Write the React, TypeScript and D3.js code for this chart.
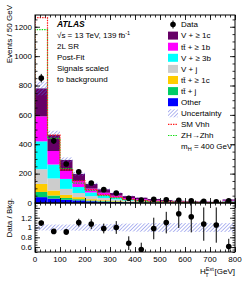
import { useEffect, useRef } from 'react';
import * as d3 from 'd3';

// H_T^Ext bins (50 GeV wide), lower edges
const binLow = [0, 50, 100, 150, 200, 250, 300, 350, 400, 450, 500, 550, 600, 650, 700, 750];

// backgrounds, stacked bottom to top
const other = [40, 30, 22, 18, 12, 9, 7, 4, 3, 2.5, 1.8, 1.2, 1, 0.8, 0.7, 2];
const ttj = [35, 21, 12, 8, 5, 4, 3, 2, 2, 1, 0.7, 0.5, 0.4, 0.4, 0.3, 0.8];
const ttc = [55, 34, 21, 14, 9, 6, 4, 3, 2, 1.5, 1, 0.8, 0.6, 0.5, 0.4, 1.2];
const vj = [100, 82, 41, 28, 20, 15, 11, 8, 6, 5, 3.5, 2.8, 2.2, 1.8, 1.4, 4.5];
const v3b = [190, 95, 68, 41, 26, 18, 12, 8, 6, 4, 3, 2.2, 1.8, 1.5, 1.2, 3.5];
const ttb = [170, 92, 54, 41, 26, 18, 13, 9, 7, 5, 4, 3, 2.4, 2, 1.6, 5];
const v1c = [190, 110, 75, 48, 32, 23, 18, 13, 10, 8, 6, 4.5, 3.6, 3, 2.4, 7];

// relative bkg uncertainty
const bkgUnc = [0.06, 0.06, 0.06, 0.065, 0.07, 0.07, 0.075, 0.08, 0.085, 0.09, 0.09, 0.09, 0.09, 0.09, 0.09, 0.09];

// data
const dataVal = [850, 423, 266, 212, 136, 91, 68, 32, 20, 26, 22, 19, 15, 11, 8.5, 15];
const dataErr = [29, 21, 16, 15, 12, 9.5, 8, 5.7, 4.5, 5, 4.7, 4.4, 3.9, 3.3, 2.9, 3.9];
const ratioVal = [1.09, 0.92, 0.91, 1.1, 1.07, 0.98, 1.0, 0.68, 0.55, 0.98, 1.1, 1.28, 1.22, 1.07, 1.05, 0.61];
const ratioErr = [0.05, 0.045, 0.06, 0.08, 0.1, 0.1, 0.13, 0.14, 0.14, 0.22, 0.22, 0.29, 0.32, 0.34, 0.36, 0.16];

// signals (scaled to background)
const smVhh = [1262, 462, 225, 150, 92, 55, 40, 25, 16, 12, 8, 6, 4, 3, 2, 5];
const zhZhh = [1180, 440, 235, 135, 85, 50, 35, 22, 14, 10, 7, 5, 4, 3, 2, 4];

const bkgKeys = ['other', 'ttj', 'ttc', 'vj', 'v3b', 'ttb', 'v1c'];
const bkgArrays: Record<string, number[]> = { other, ttj, ttc, vj, v3b, ttb, v1c };
const bkgColors: Record<string, string> = {
  other: '#0000ff', ttj: '#00cc66', ttc: '#ffcc00', vj: '#cccccc',
  v3b: '#00ffff', ttb: '#ff00ff', v1c: '#660066',
};

const xTicks = [0, 100, 200, 300, 400, 500, 600, 700, 800];
const yTicks = [0, 200, 400, 600, 800, 1000, 1200];
const rTicks = [0.6, 0.8, 1, 1.2];

const FONT = 'Liberation Sans, Arial, sans-serif';
const RED = '#ff1a1a', GREEN = '#11dd11';

const L = 35, R = 235, T = 15, M = 203, B = 252;
const x = d3.scaleLinear().domain([0, 800]).range([L, R]);
const y = d3.scaleLinear().domain([0, 1280]).range([M, T]);
const yr = d3.scaleLinear().domain([0.5, 1.5]).range([B, M]);

export default function App() {
  const ref = useRef<SVGGElement>(null);

  useEffect(() => {
    const svg = d3.select(ref.current);
    svg.selectAll('*').remove();

    const rows = binLow.map((lo, i) => {
      const r: any = { lo };
      bkgKeys.forEach(k => { r[k] = bkgArrays[k][i]; });
      return r;
    });
    const stacked = d3.stack().keys(bkgKeys)(rows);
    const totals = rows.map(r => d3.sum(bkgKeys, k => r[k]));

    const main = svg.append('g').attr('clip-path', 'url(#cm)');
    stacked.forEach(layer => {
      main.append('g').selectAll('rect').data(layer).join('rect')
        .attr('x', d => x(d.data.lo))
        .attr('width', x(50) - x(0))
        .attr('y', d => y(d[1]))
        .attr('height', d => y(d[0]) - y(d[1]))
        .attr('fill', bkgColors[layer.key]);
    });

    // uncertainty hatch
    main.append('g').selectAll('rect').data(binLow).join('rect')
      .attr('x', d => x(d)).attr('width', x(50) - x(0))
      .attr('y', (d, i) => y(totals[i] * (1 + bkgUnc[i])))
      .attr('height', (d, i) => y(totals[i] * (1 - bkgUnc[i])) - y(totals[i] * (1 + bkgUnc[i])))
      .attr('fill', 'url(#hatch)');

    // signal step histograms
    const step = (vals: number[]) => {
      const pts: [number, number][] = [[0, 0]];
      vals.forEach((v, i) => { pts.push([binLow[i], v]); pts.push([binLow[i] + 50, v]); });
      pts.push([800, 0]);
      return d3.line<[number, number]>().x(d => x(d[0])).y(d => y(d[1]))(pts);
    };
    main.append('path').attr('d', step(zhZhh)).attr('fill', 'none')
      .attr('stroke', GREEN).attr('stroke-width', 1.2).attr('stroke-dasharray', '1.4,1.1');
    main.append('path').attr('d', step(smVhh)).attr('fill', 'none')
      .attr('stroke', RED).attr('stroke-width', 1.2).attr('stroke-dasharray', '1.4,1.1');

    // data
    const dg = svg.append('g').attr('clip-path', 'url(#cm)');
    binLow.forEach((lo, i) => {
      const cx = x(lo + 25);
      dg.append('line').attr('x1', cx).attr('x2', cx)
        .attr('y1', y(dataVal[i] - dataErr[i])).attr('y2', y(dataVal[i] + dataErr[i]))
        .attr('stroke', '#000').attr('stroke-width', 1);
      dg.append('circle').attr('cx', cx).attr('cy', y(dataVal[i])).attr('r', 2.8).attr('fill', '#000');
    });

    // ratio panel
    const rg = svg.append('g').attr('clip-path', 'url(#cr)');
    rg.append('g').selectAll('rect').data(binLow).join('rect')
      .attr('x', d => x(d)).attr('width', x(50) - x(0))
      .attr('y', (d, i) => yr(1 + bkgUnc[i])).attr('height', (d, i) => yr(1 - bkgUnc[i]) - yr(1 + bkgUnc[i]))
      .attr('fill', 'url(#hatch)');
    binLow.forEach((lo, i) => {
      const cx = x(lo + 25);
      rg.append('line').attr('x1', cx).attr('x2', cx)
        .attr('y1', yr(ratioVal[i] - ratioErr[i])).attr('y2', yr(ratioVal[i] + ratioErr[i]))
        .attr('stroke', '#000').attr('stroke-width', 1);
      rg.append('circle').attr('cx', cx).attr('cy', yr(ratioVal[i])).attr('r', 2.8).attr('fill', '#000');
    });

    // frames
    [[T, M], [M, B]].forEach(([t, b]) => {
      svg.append('rect').attr('x', L).attr('y', t).attr('width', R - L).attr('height', b - t)
        .attr('fill', 'none').attr('stroke', '#000').attr('stroke-width', 1);
    });

    // axes with inward ticks, labels drawn separately
    const xMinor = d3.range(0, 801, 20);
    const styleAx = (g: any) => {
      g.select('.domain').remove();
      g.selectAll('line').attr('stroke', '#000').attr('stroke-width', 0.8);
      g.selectAll('text').remove();
    };
    const axis = (gen: any, tx: string) => svg.append('g').attr('transform', tx).call(gen).call(styleAx);

    [M, B].forEach(yb => {
      axis(d3.axisBottom(x).tickValues(xTicks).tickSize(-5), `translate(0,${yb})`);
      axis(d3.axisBottom(x).tickValues(xMinor).tickSize(-2.5), `translate(0,${yb})`);
    });
    [T, M].forEach(yt => {
      axis(d3.axisTop(x).tickValues(xTicks).tickSize(-5), `translate(0,${yt})`);
      axis(d3.axisTop(x).tickValues(xMinor).tickSize(-2.5), `translate(0,${yt})`);
    });

    const yMinor = d3.range(0, 1281, 50);
    axis(d3.axisLeft(y).tickValues(yTicks).tickSize(-5), `translate(${L},0)`);
    axis(d3.axisLeft(y).tickValues(yMinor).tickSize(-2.5), `translate(${L},0)`);
    axis(d3.axisRight(y).tickValues(yTicks).tickSize(-5), `translate(${R},0)`);
    axis(d3.axisRight(y).tickValues(yMinor).tickSize(-2.5), `translate(${R},0)`);

    const rMajor = [0.6, 0.8, 1, 1.2, 1.4];
    const rMinor = d3.range(0.5, 1.5001, 0.05);
    axis(d3.axisLeft(yr).tickValues(rMajor).tickSize(-5), `translate(${L},0)`);
    axis(d3.axisLeft(yr).tickValues(rMinor).tickSize(-2.5), `translate(${L},0)`);
    axis(d3.axisRight(yr).tickValues(rMajor).tickSize(-5), `translate(${R},0)`);
    axis(d3.axisRight(yr).tickValues(rMinor).tickSize(-2.5), `translate(${R},0)`);
  }, []);

  const tb = 't\u0074\u0304';
  const legItems: [string, string][] = [
    ['v1c', 'V + \u2265 1c'], ['ttb', tb + ' + \u2265 1b'], ['v3b', 'V + \u2265 3b'],
    ['vj', 'V + j'], ['ttc', tb + ' + \u2265 1c'], ['ttj', tb + ' + j'], ['other', 'Other'],
  ];
  const lx = 168, tx0 = 181, ly0 = 24.5, dy = 11.1;
  const sub = 5.5;

  return (
    <div style={{ position: 'absolute', left: 0, top: 0 }}>
      <svg width={249} height={281} style={{ display: 'block', background: '#fff' }}
        fontFamily={FONT} fontSize={8}>
        <defs>
          <pattern id="hatch" patternUnits="userSpaceOnUse" width={2.6} height={2.6} patternTransform="rotate(45)">
            <line x1={0} y1={0} x2={0} y2={2.6} stroke="#5560e0" strokeWidth={0.9} />
          </pattern>
          <clipPath id="cm"><rect x={L} y={T} width={R - L} height={M - T} /></clipPath>
          <clipPath id="cr"><rect x={L} y={M} width={R - L} height={B - M} /></clipPath>
        </defs>
        <g ref={ref} />
        {/* tick labels */}
        {yTicks.map(v => (
          <text key={'y' + v} x={L - 3} y={y(v)} dy="0.35em" textAnchor="end">{v}</text>
        ))}
        {rTicks.map(v => (
          <text key={'r' + v} x={L - 3} y={yr(v)} dy="0.35em" textAnchor="end">{d3.format('~g')(v)}</text>
        ))}
        {xTicks.map(v => (
          <text key={'x' + v} x={x(v)} y={B + 7} dy="0.35em" textAnchor="middle">{v}</text>
        ))}
        {/* axis titles */}
        <text transform="translate(12,5) rotate(-90)" textAnchor="end">Events / 50 GeV</text>
        <text transform="translate(12,198) rotate(-90)" textAnchor="end">Data / Bkg.</text>
        <text x={R} y={274} textAnchor="end">
          H<tspan fontSize={sub} dy={-3.5}>Ext</tspan>
          <tspan fontSize={sub} dx={-8.5} dy={6}>T</tspan>
          <tspan dx={6} dy={-2.5}>[GeV]</tspan>
        </text>
        {/* labels */}
        <text x={57} y={24.5} dy="0.35em" fontWeight="bold" fontStyle="italic" fontSize={8.5}>ATLAS</text>
        <text x={57} y={35.5} dy="0.35em">{'\u221As = 13 TeV, 139 fb'}<tspan fontSize={sub} dy={-3}>-1</tspan></text>
        <text x={57} y={46.5} dy="0.35em">2L SR</text>
        <text x={57} y={57.5} dy="0.35em">Post-Fit</text>
        <text x={57} y={68.5} dy="0.35em">Signals scaled</text>
        <text x={57} y={79.5} dy="0.35em">to background</text>
        {/* legend */}
        <line x1={lx + 5} x2={lx + 5} y1={ly0 - 4} y2={ly0 + 4} stroke="#000" />
        <circle cx={lx + 5} cy={ly0} r={2.8} />
        <text x={tx0} y={ly0} dy="0.35em">Data</text>
        {legItems.map(([k, s], i) => (
          <g key={k}>
            <rect x={lx} y={ly0 + dy * (i + 1) - 4} width={10} height={8} fill={bkgColors[k]} />
            <text x={tx0} y={ly0 + dy * (i + 1)} dy="0.35em">{s}</text>
          </g>
        ))}
        <rect x={lx} y={ly0 + dy * 8 - 4} width={10} height={8} fill="url(#hatch)" />
        <text x={tx0} y={ly0 + dy * 8} dy="0.35em">Uncertainty</text>
        <line x1={lx} x2={lx + 10} y1={ly0 + dy * 9} y2={ly0 + dy * 9} stroke={RED} strokeWidth={1.2} strokeDasharray="1.4,1.1" />
        <text x={tx0} y={ly0 + dy * 9} dy="0.35em">SM Vhh</text>
        <line x1={lx} x2={lx + 10} y1={ly0 + dy * 10} y2={ly0 + dy * 10} stroke={GREEN} strokeWidth={1.2} strokeDasharray="1.4,1.1" />
        <text x={tx0} y={ly0 + dy * 10} dy="0.35em">{'ZH\u2192Zhh'}</text>
        <text x={tx0} y={ly0 + dy * 11} dy="0.35em">m<tspan fontSize={sub} dy={2}>H</tspan><tspan dy={-2}> = 400 GeV</tspan></text>
      </svg>
    </div>
  );
}
